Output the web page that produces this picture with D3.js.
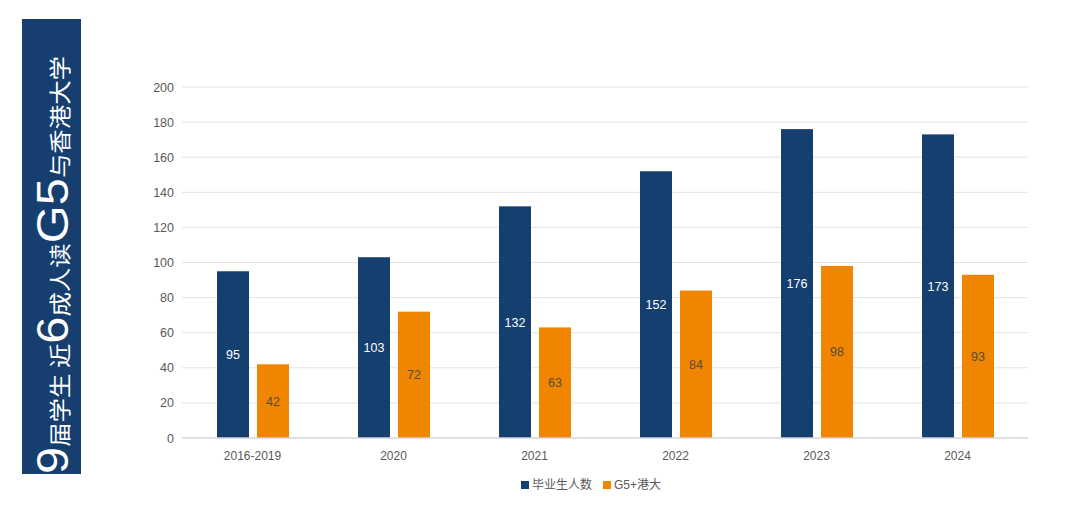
<!DOCTYPE html>
<html>
<head>
<meta charset="utf-8">
<script src="https://cdn.jsdelivr.net/npm/d3@7"></script>
<style>
  body { margin: 0; background: #fff; }
  text { font-family: "Liberation Sans", Arial, "Noto Sans CJK SC", sans-serif; }
</style>
</head>
<body>
<div id="chart"></div>
<script>
var years = ["2016-2019", "2020", "2021", "2022", "2023", "2024"];
var graduates = [95, 103, 132, 152, 176, 173];
var g5hk = [42, 72, 63, 84, 98, 93];
var seriesNames = ["毕业生人数", "G5+港大"];
var yTicks = [0, 20, 40, 60, 80, 100, 120, 140, 160, 180, 200];

var colors = ["#153f6f", "#ef8500"];
var labelColors = ["#ffffff", "#5a4b3c"];

var width = 1080, height = 518;

var svg = d3.select("#chart").append("svg")
  .attr("width", width)
  .attr("height", height);

// left title panel
svg.append("rect")
  .attr("x", 22).attr("y", 19)
  .attr("width", 59).attr("height", 455)
  .attr("fill", "#163e6f");

var titleParts = [
  {t: "9", big: true},
  {t: "届学生 近", big: false},
  {t: "6", big: true},
  {t: "成人读", big: false},
  {t: "G5", big: true},
  {t: "与香港大学", big: false}
];

var title = svg.append("text")
  .attr("transform", "translate(68,474) rotate(-90)")
  .attr("fill", "#ffffff")
  .attr("textLength", 418)
  .attr("lengthAdjust", "spacingAndGlyphs");

title.selectAll("tspan")
  .data(titleParts)
  .enter()
  .append("tspan")
  .attr("font-size", function(d){ return d.big ? 44 : 22; })
  .style("font-family", function(d){ return d.big ? "'Liberation Sans', Arial, sans-serif" : "'Noto Sans CJK SC', sans-serif"; })
  .text(function(d){ return d.t; });

// chart area
var plotLeft = 182, plotRight = 1028, plotTop = 87, plotBottom = 438;

var x = d3.scaleBand()
  .domain(years)
  .range([plotLeft, plotRight])
  .padding(0);

var xInner = d3.scaleBand()
  .domain([0, 1])
  .range([35, 107])
  .paddingInner(0.2)
  .paddingOuter(0);

var y = d3.scaleLinear()
  .domain([0, 200])
  .range([plotBottom, plotTop]);

// gridlines
svg.append("g")
  .selectAll("line")
  .data(yTicks.slice(1))
  .enter()
  .append("line")
  .attr("x1", plotLeft).attr("x2", plotRight)
  .attr("y1", function(d){ return y(d); })
  .attr("y2", function(d){ return y(d); })
  .attr("stroke", "#e3e3e3")
  .attr("stroke-width", 1);

// y axis labels
var yAxis = d3.axisLeft(y).tickValues(yTicks).tickSize(0).tickPadding(8);
var yg = svg.append("g")
  .attr("transform", "translate(" + plotLeft + ",0)")
  .call(yAxis);
yg.select(".domain").remove();
yg.selectAll("text")
  .attr("font-size", 12.5)
  .attr("fill", "#595959")
  .style("font-family", "'Liberation Sans', Arial, sans-serif");

// bars
var rows = years.map(function(yr, i){
  return {year: yr, vals: [graduates[i], g5hk[i]]};
});

var groups = svg.append("g")
  .selectAll("g")
  .data(rows)
  .enter()
  .append("g")
  .attr("transform", function(d){ return "translate(" + x(d.year) + ",0)"; });

groups.selectAll("rect")
  .data(function(d){ return d.vals.map(function(v, k){ return {k: k, v: v}; }); })
  .enter()
  .append("rect")
  .attr("x", function(d){ return xInner(d.k); })
  .attr("width", xInner.bandwidth())
  .attr("y", function(d){ return y(d.v); })
  .attr("height", function(d){ return y(0) - y(d.v); })
  .attr("fill", function(d){ return colors[d.k]; });

groups.selectAll("text")
  .data(function(d){ return d.vals.map(function(v, k){ return {k: k, v: v}; }); })
  .enter()
  .append("text")
  .attr("x", function(d){ return xInner(d.k) + xInner.bandwidth() / 2; })
  .attr("y", function(d){ return (y(d.v) + y(0)) / 2; })
  .attr("dy", "0.35em")
  .attr("text-anchor", "middle")
  .attr("font-size", 12.5)
  .attr("fill", function(d){ return labelColors[d.k]; })
  .text(function(d){ return d.v; });

// baseline
svg.append("line")
  .attr("x1", plotLeft).attr("x2", plotRight)
  .attr("y1", y(0)).attr("y2", y(0))
  .attr("stroke", "#d6d6d6")
  .attr("stroke-width", 1.5);

// x axis labels
var xAxis = d3.axisBottom(x).tickSize(0).tickPadding(13);
var xg = svg.append("g")
  .attr("transform", "translate(0," + plotBottom + ")")
  .call(xAxis);
xg.select(".domain").remove();
xg.selectAll("text")
  .attr("font-size", 12)
  .attr("fill", "#595959")
  .style("font-family", "'Liberation Sans', Arial, sans-serif");

// legend
var legendX = [521, 603];
var legend = svg.append("g")
  .selectAll("g")
  .data(seriesNames)
  .enter()
  .append("g")
  .attr("transform", function(d, i){ return "translate(" + legendX[i] + ",481)"; });

legend.append("rect")
  .attr("width", 8).attr("height", 8)
  .attr("fill", function(d, i){ return colors[i]; });

legend.append("text")
  .attr("x", 11).attr("y", 4)
  .attr("dy", "0.35em")
  .attr("font-size", 12)
  .attr("fill", "#595959")
  .style("font-family", "'Liberation Sans', 'Noto Sans CJK SC', sans-serif")
  .text(function(d){ return d; });
</script>
</body>
</html>
